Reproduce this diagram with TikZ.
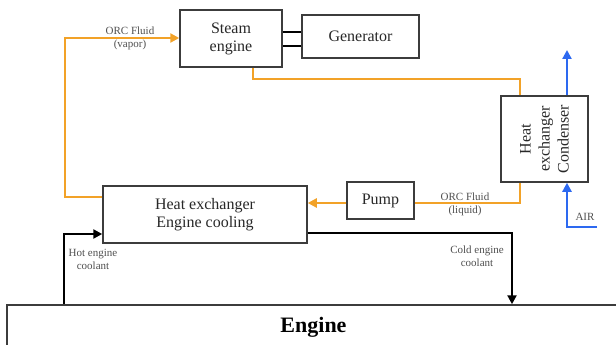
\documentclass[tikz,border=0pt]{standalone}
\usepackage{fontspec}
\setmainfont{Liberation Serif}
\usetikzlibrary{arrows.meta,calc}
\definecolor{orc}{RGB}{242,162,40}
\definecolor{airblue}{RGB}{45,105,240}
\definecolor{boxline}{RGB}{60,60,60}
\definecolor{txt}{RGB}{40,40,40}
\definecolor{lbl}{RGB}{80,80,80}
\tikzset{
  box/.style={draw=boxline,line width=1.5pt,inner sep=0pt,align=center,text=txt,font=\fontsize{16}{18}\selectfont},
  lab/.style={align=center,text=lbl,font=\fontsize{11}{13}\selectfont,inner sep=0pt},
  tip/.style={-{Triangle[length=9pt,width=9pt]}},
  orcline/.style={draw=orc,line width=2.4pt},
  coolline/.style={draw=black,line width=2.4pt},
  airline/.style={draw=airblue,line width=2.6pt}
}
\begin{document}
\begin{tikzpicture}[x=1pt,y=-1pt]
\clip (0,0) rectangle (616,345);
\fill[white] (0,0) rectangle (616,345);
% boxes
\node[box,minimum width=102pt,minimum height=57pt] (steam) at (231,38.5) {Steam\\engine};
\node[box,minimum width=117pt,minimum height=43pt] (gen) at (360.5,36.5) {Generator};
\node[box,minimum width=87pt,minimum height=86pt] (cond) at (544.5,139) {};
\node[text=txt,font=\fontsize{16}{19}\selectfont,align=center,rotate=90,inner sep=0pt] (condtxt) at (cond.center) {Heat\\exchanger\\Condenser};
\node[box,minimum width=67pt,minimum height=37pt] (pump) at (380.5,200.5) {Pump};
\node[box,minimum width=204pt,minimum height=57pt] (hx) at (205,214.5) {Heat exchanger\\Engine cooling};
\node[box,minimum width=613pt,minimum height=45pt,font=\fontsize{22}{24}\selectfont\bfseries,text=black] (engine) at (313.5,327.5) {Engine};
% shaft steam engine - generator
\draw[black,line width=2pt] (steam.east |- 0,32) -- (gen.west |- 0,32);
\draw[black,line width=2pt] (steam.east |- 0,46) -- (gen.west |- 0,46);
% ORC vapor
\draw[orcline,tip] (hx.west |- 0,197) -- (65,197) -- (65,38) -- (steam.west |- 0,38);
\node[lab] (lvap) at (130,38.5) {ORC Fluid\\(vapor)};
% steam engine to condenser
\draw[orcline] (steam.south -| 253,0) -- (253,79) -- (520,79) -- (cond.north -| 520,0);
% condenser to pump
\draw[orcline] (cond.south -| 520,0) -- (520,203) -- (pump.east |- 0,203);
\node[lab] (lliq) at (465,204.5) {ORC Fluid\\(liquid)};
% pump to heat exchanger
\draw[orcline,tip] (pump.west |- 0,203) -- (hx.east |- 0,203);
% coolant loops
\draw[coolline,tip] (hx.east |- 0,233) -- (512,233) -- (engine.north -| 512,0);
\node[lab] (lcold) at (477,256.5) {Cold engine\\coolant};
\draw[coolline,tip] (engine.north -| 64,0) -- (64,234) -- (hx.west |- 0,234);
\node[lab] (lhot) at (93,259.5) {Hot engine\\coolant};
% air
\coordinate (airout) at (567,50);
\coordinate (airin) at (597,227);
\draw[airline,tip] (cond.north -| 567,0) -- (airout);
\draw[airline,tip] (airin) -- (567,227) -- (cond.south -| 567,0);
\node[lab] (lair) at (585,217) {AIR};
\end{tikzpicture}
\end{document}
